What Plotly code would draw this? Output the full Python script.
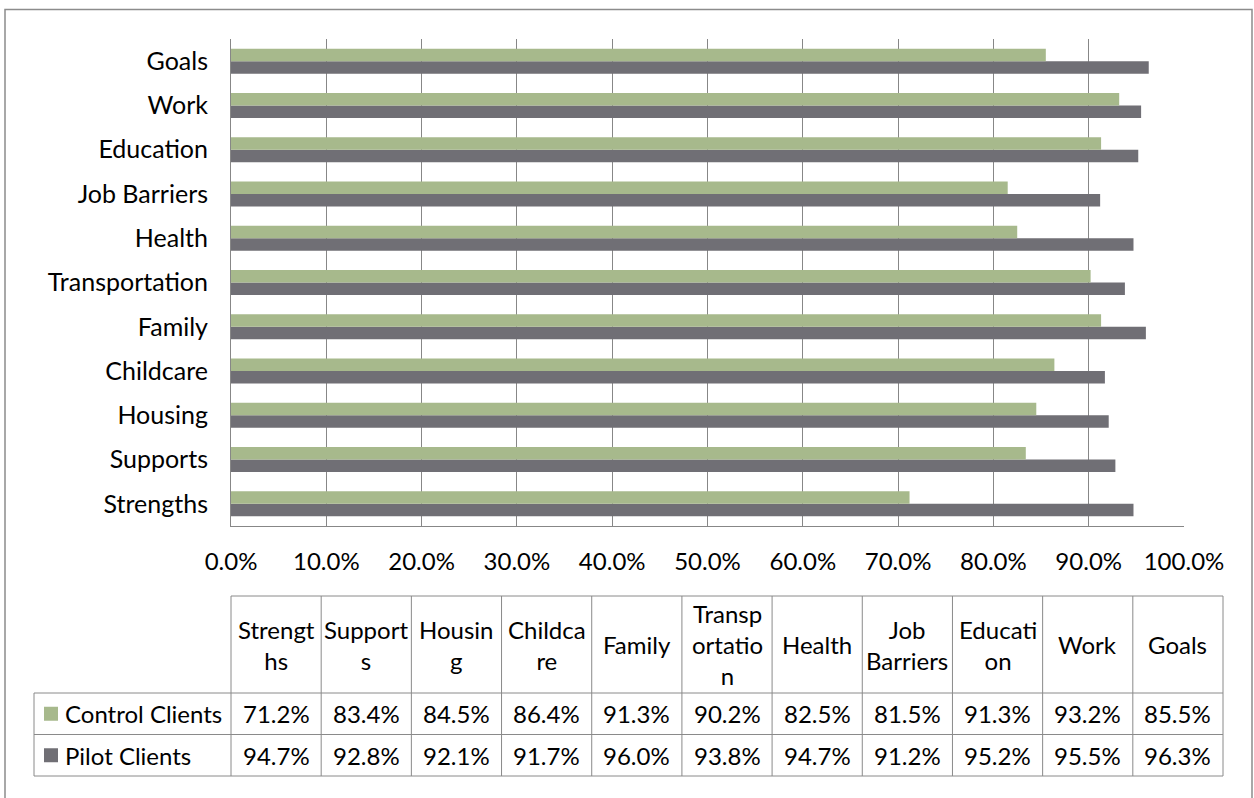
import plotly.graph_objects as go

# ---------------- data ----------------
categories = ["Strengths", "Supports", "Housing", "Childcare", "Family",
              "Transportation", "Health", "Job Barriers", "Education", "Work", "Goals"]
header_labels = ["Strengt<br>hs", "Support<br>s", "Housin<br>g", "Childca<br>re", "Family",
                 "Transp<br>ortatio<br>n", "Health", "Job<br>Barriers", "Educati<br>on", "Work", "Goals"]
control_clients = [71.2, 83.4, 84.5, 86.4, 91.3, 90.2, 82.5, 81.5, 91.3, 93.2, 85.5]
pilot_clients = [94.7, 92.8, 92.1, 91.7, 96.0, 93.8, 94.7, 91.2, 95.2, 95.5, 96.3]
series_names = ["Control Clients", "Pilot Clients"]
x_tick_values = [0, 10, 20, 30, 40, 50, 60, 70, 80, 90, 100]

# ---------------- style ----------------
W, H = 1254, 798
GREEN = "#A7B98C"
GREY = "#706F75"
GRID = "#878787"
TBL = "#8A8A8A"
FONT = "Lato"
FS = 24


def px(x):
    return x / W


def py(y):
    return 1 - y / H


fig = go.Figure()
fig.add_trace(go.Bar(y=categories, x=pilot_clients, orientation="h", name=series_names[1],
                     marker=dict(color=GREY, line=dict(width=0)), showlegend=False))
fig.add_trace(go.Bar(y=categories, x=control_clients, orientation="h", name=series_names[0],
                     marker=dict(color=GREEN, line=dict(width=0)), showlegend=False))

plot_left, plot_right, plot_top, plot_bottom = 231, 1184, 39, 526

fig.update_layout(
    width=W, height=H, autosize=False,
    margin=dict(l=0, r=0, t=0, b=0, pad=0),
    paper_bgcolor="white", plot_bgcolor="white",
    barmode="group", bargap=0.435, bargroupgap=0,
    font=dict(family=FONT, size=FS, color="black"),
    xaxis=dict(domain=[px(plot_left), px(plot_right)], range=[0, 100],
               tickvals=x_tick_values, ticktext=[f"{v:.1f}%" for v in x_tick_values],
               showgrid=True, gridcolor=GRID, gridwidth=1,
               showline=True, linecolor=GRID, linewidth=1,
               zeroline=False, ticks="", ticklabelstandoff=14, automargin=False,
               tickfont=dict(family=FONT, size=FS, color="black"), fixedrange=True),
    yaxis=dict(domain=[py(plot_bottom), py(plot_top)],
               categoryorder="array", categoryarray=categories,
               showgrid=False, showline=True, linecolor=GRID, linewidth=1,
               ticks="", ticklabelstandoff=17, automargin=False,
               tickfont=dict(family=FONT, size=25, color="black"), fixedrange=True),
)

shapes = []
annotations = []

# outer chart border
shapes.append(dict(type="rect", xref="paper", yref="paper",
                   x0=px(5), x1=px(1252), y0=py(820), y1=py(9.5),
                   line=dict(color="#8C8C8C", width=1.5), fillcolor="rgba(0,0,0,0)"))

# ---------------- data table ----------------
tbl_left = 34
col_left = 231
col_w = (1223 - 231) / len(categories)
tbl_top, hdr_bottom = 596, 693
row_h = 41.5
rows = [control_clients, pilot_clients]
row_colors = [GREEN, GREY]
tbl_bottom = hdr_bottom + row_h * len(rows)
tbl_right = col_left + col_w * len(categories)


def hline(x0, x1, y):
    shapes.append(dict(type="line", xref="paper", yref="paper", x0=px(x0), x1=px(x1),
                       y0=py(y), y1=py(y), line=dict(color=TBL, width=1)))


def vline(x, y0, y1):
    shapes.append(dict(type="line", xref="paper", yref="paper", x0=px(x), x1=px(x),
                       y0=py(y0), y1=py(y1), line=dict(color=TBL, width=1)))


hline(col_left, tbl_right, tbl_top)
for r in range(len(rows) + 1):
    hline(tbl_left, tbl_right, hdr_bottom + r * row_h)
vline(tbl_left, hdr_bottom, tbl_bottom)
for c in range(len(categories) + 1):
    vline(col_left + c * col_w, tbl_top, tbl_bottom)

# header texts
for c, lab in enumerate(header_labels):
    annotations.append(dict(xref="paper", yref="paper", x=px(col_left + (c + 0.5) * col_w),
                            y=py((tbl_top + hdr_bottom) / 2), text=lab, showarrow=False,
                            xanchor="center", yanchor="middle", align="center",
                            font=dict(family=FONT, size=FS, color="black")))

# body rows
for r, vals in enumerate(rows):
    yc = hdr_bottom + (r + 0.5) * row_h
    # legend key
    shapes.append(dict(type="rect", xref="paper", yref="paper",
                       x0=px(44), x1=px(58), y0=py(yc + 7), y1=py(yc - 7),
                       fillcolor=row_colors[r], line=dict(width=0)))
    annotations.append(dict(xref="paper", yref="paper", x=px(63), y=py(yc),
                            text=series_names[r], showarrow=False,
                            xanchor="left", yanchor="middle",
                            font=dict(family=FONT, size=FS, color="black")))
    for c, v in enumerate(vals):
        annotations.append(dict(xref="paper", yref="paper", x=px(col_left + (c + 0.5) * col_w),
                                y=py(yc), text=f"{v:.1f}%", showarrow=False,
                                xanchor="center", yanchor="middle",
                                font=dict(family=FONT, size=FS, color="black")))

fig.update_layout(shapes=shapes, annotations=annotations)
fig.write_html("out.html", config={"displayModeBar": False})
